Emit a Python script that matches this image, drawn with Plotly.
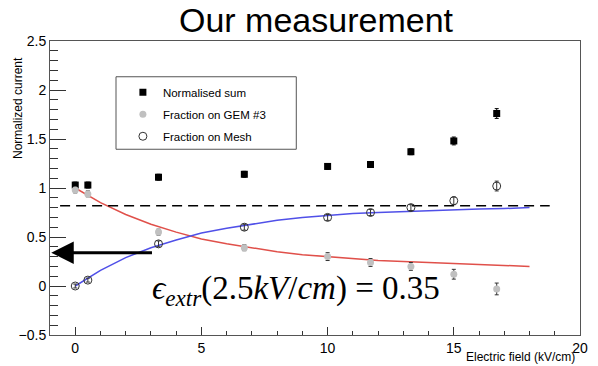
import plotly.graph_objects as go

# ---- data ----
field = [0, 0.5, 3.3, 6.7, 10, 11.7, 13.3, 15, 16.7]
norm_sum = [1.03, 1.03, 1.11, 1.14, 1.22, 1.24, 1.37, 1.48, 1.76]
norm_sum_err = [0.03, 0.03, 0.03, 0.03, 0.03, 0.03, 0.03, 0.04, 0.05]
frac_gem = [0.98, 0.94, 0.55, 0.39, 0.30, 0.24, 0.20, 0.12, -0.03]
frac_gem_err = [0.03, 0.03, 0.03, 0.03, 0.04, 0.04, 0.04, 0.05, 0.06]
frac_mesh = [0.0, 0.06, 0.43, 0.60, 0.70, 0.75, 0.80, 0.87, 1.02]
frac_mesh_err = [0.02, 0.02, 0.03, 0.03, 0.03, 0.03, 0.03, 0.04, 0.05]

fit_x = [0, 1, 2, 3, 4, 5, 6, 7, 8, 9, 10, 11, 12, 13, 14, 15, 16, 17, 18]
fit_gem = [1.0, 0.85, 0.73, 0.63, 0.55, 0.48, 0.43, 0.39, 0.35, 0.32, 0.30,
           0.28, 0.26, 0.25, 0.24, 0.23, 0.22, 0.21, 0.20]
fit_mesh = [0.0, 0.16, 0.29, 0.39, 0.47, 0.54, 0.59, 0.63, 0.67, 0.70, 0.72,
            0.74, 0.75, 0.76, 0.77, 0.78, 0.785, 0.79, 0.80]

ref_x = [-0.6, 18.8]
ref_y = [0.82, 0.82]

arrow_from_x, arrow_to_x, arrow_y = 3.1, -0.95, 0.34

FONT = "Liberation Sans, Arial, sans-serif"

fig = go.Figure()

# fit curves
fig.add_trace(go.Scatter(x=fit_x, y=fit_gem, mode="lines",
                         line=dict(color="#e0504a", width=1.5),
                         showlegend=False, hoverinfo="skip"))
fig.add_trace(go.Scatter(x=fit_x, y=fit_mesh, mode="lines",
                         line=dict(color="#5050e8", width=1.5),
                         showlegend=False, hoverinfo="skip"))
# dashed reference
fig.add_trace(go.Scatter(x=ref_x, y=ref_y, mode="lines",
                         line=dict(color="black", width=1.5, dash="10px,6px"),
                         showlegend=False, hoverinfo="skip"))

# data points
fig.add_trace(go.Scatter(
    x=field, y=norm_sum, mode="markers", name="Normalised sum",
    legendgroup="a",
    marker=dict(symbol="square", size=7, color="black"),
    error_y=dict(type="data", array=norm_sum_err, color="black", thickness=1, width=2)))
fig.add_trace(go.Scatter(
    x=field, y=frac_gem, mode="markers", name="Fraction on GEM #3",
    legendgroup="b",
    marker=dict(symbol="circle", size=7, color="#c0c0c0"),
    error_y=dict(type="data", array=frac_gem_err, color="#333", thickness=1, width=2)))
fig.add_trace(go.Scatter(
    x=field, y=frac_mesh, mode="markers", name="Fraction on Mesh",
    legendgroup="c",
    marker=dict(symbol="circle-open", size=8, color="#333", line=dict(width=1)),
    error_y=dict(type="data", array=frac_mesh_err, color="#333", thickness=1, width=2)))

# legend frame box (ROOT style)
fig.add_shape(type="rect", xref="paper", yref="paper",
              x0=(117 - 50) / 538, x1=(300 - 50) / 538,
              y0=(337 - 150) / 296, y1=(337 - 77) / 296,
              line=dict(color="#555", width=1), fillcolor="rgba(0,0,0,0)", layer="above")

# arrow
fig.add_annotation(x=arrow_to_x, y=arrow_y, ax=arrow_from_x, ay=arrow_y,
                   xref="x", yref="y", axref="x", ayref="y",
                   text="", showarrow=True, arrowhead=2, arrowsize=1.5,
                   arrowwidth=3, arrowcolor="black")

# formula
fig.add_annotation(
    x=(152 - 50) / 538, y=(337 - 292) / 296, xref="paper", yref="paper",
    xanchor="left", yanchor="middle", showarrow=False,
    text="<i>ϵ<sub>extr</sub></i>(2.5<i>kV</i>/<i>cm</i>) = 0.35",
    font=dict(family="Liberation Serif, Times New Roman, serif", size=33, color="black"))

# axis titles
fig.add_annotation(
    x=1.0 - 3 / 538, y=-(359.5 - 337) / 296, xref="paper", yref="paper",
    xanchor="right", yanchor="middle", showarrow=False,
    text="Electric field (kV/cm)", font=dict(family=FONT, size=12, color="black"))
fig.add_annotation(
    x=(17 - 50) / 538, y=(337 - 108) / 296, xref="paper", yref="paper",
    xanchor="center", yanchor="middle", showarrow=False, textangle=-90,
    text="Normalized current", font=dict(family=FONT, size=12, color="black"))

fig.update_layout(
    width=598, height=366,
    margin=dict(l=50, r=10, t=41, b=30),
    paper_bgcolor="white", plot_bgcolor="white",
    font=dict(family=FONT, size=14, color="black"),
    title=dict(text="Our measurement", x=316 / 598, xanchor="center",
               y=1 - 20 / 366, yanchor="middle",
               font=dict(family=FONT, size=34, color="black")),
    showlegend=True,
    legend=dict(x=(124 - 50) / 538, y=(337 - 78) / 296, xanchor="left", yanchor="top",
                borderwidth=0, bgcolor="rgba(255,255,255,0)",
                font=dict(family=FONT, size=11.5, color="black"),
                tracegroupgap=3, itemwidth=30),
)
fig.update_xaxes(range=[-1, 20], tickvals=[0, 5, 10, 15, 20],
                 ticks="inside", ticklen=8, tickcolor="#333",
                 showline=True, linecolor="#555", linewidth=1, mirror=True,
                 showgrid=False, zeroline=False,
                 minor=dict(ticks="inside", ticklen=4, dtick=1, tick0=0, tickcolor="#333"))
fig.update_yaxes(range=[-0.5, 2.5], tickvals=[-0.5, 0, 0.5, 1, 1.5, 2, 2.5],
                 ticktext=["−0.5", "0", "0.5", "1", "1.5", "2", "2.5"],
                 ticks="inside", ticklen=16, tickcolor="#333",
                 showline=True, linecolor="#555", linewidth=1, mirror=True,
                 showgrid=False, zeroline=False,
                 minor=dict(ticks="inside", ticklen=8, dtick=0.1, tick0=0, tickcolor="#333"))

fig.write_html("out.html")
